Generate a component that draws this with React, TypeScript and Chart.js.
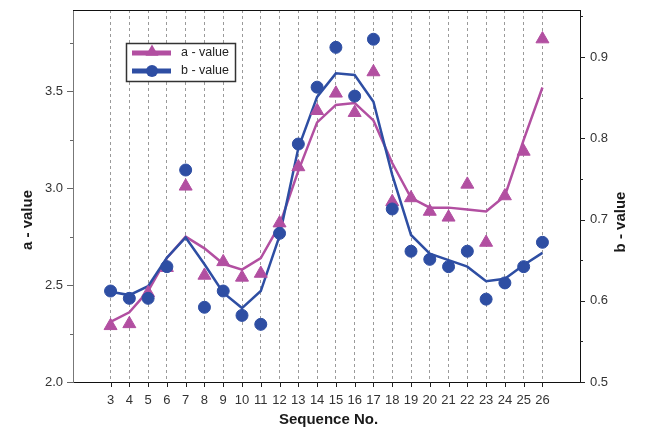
import React, { useEffect, useRef } from 'react';
import { Chart, registerables } from 'chart.js';

Chart.register(...registerables);

// Sequence numbers along the x axis
const sequence = [3, 4, 5, 6, 7, 8, 9, 10, 11, 12, 13, 14, 15, 16, 17, 18, 19, 20, 21, 22, 23, 24, 25, 26];

// Measured a - value (left axis) and its smoothed trend
const aValues = [2.29, 2.30, 2.46, 2.59, 3.01, 2.55, 2.62, 2.54, 2.56, 2.82, 3.11, 3.40, 3.49, 3.39, 3.60, 2.93, 2.95, 2.88, 2.85, 3.02, 2.72, 2.96, 3.19, 3.77];
const aTrend = [2.31, 2.36, 2.47, 2.64, 2.75, 2.69, 2.61, 2.58, 2.64, 2.81, 3.09, 3.34, 3.43, 3.44, 3.35, 3.13, 2.95, 2.90, 2.90, 2.89, 2.88, 2.96, 3.25, 3.52];

// Measured b - value (right axis) and its smoothed trend
const bValues = [0.612, 0.603, 0.603, 0.642, 0.761, 0.592, 0.612, 0.582, 0.571, 0.683, 0.793, 0.863, 0.912, 0.852, 0.922, 0.713, 0.661, 0.651, 0.642, 0.661, 0.602, 0.622, 0.642, 0.672];
const bTrend = [0.611, 0.607, 0.618, 0.653, 0.678, 0.645, 0.610, 0.591, 0.612, 0.680, 0.788, 0.851, 0.880, 0.878, 0.845, 0.755, 0.681, 0.658, 0.650, 0.642, 0.624, 0.627, 0.644, 0.659];

// Axis ranges and tick steps
const aRange = [2.0, 3.92];
const bRange = [0.5, 0.958];
const xRange = [1, 28];
const aStep = 0.5;
const bStep = 0.1;

const legendLabels = ['a - value', 'b - value'];

const PINK = '#b24fa1';
const BLUE = '#2e4ea3';
const FONT = '"Liberation Sans", Arial, sans-serif';

const pts = (ys: number[]) => sequence.map((x, i) => ({ x, y: ys[i] }));

// Fixed-width vertical axes without the automatic label padding
const fixWidth = (w: number) => (s: any) => {
  s.width = w;
  s.paddingTop = 0;
  s.paddingBottom = 0;
};

// Draws the outer frame, tick marks, axis titles and the boxed legend
const decorations = {
  id: 'decorations',
  afterDraw(chart: any) {
    const { ctx, chartArea } = chart;
    const { left, right, top, bottom } = chartArea;
    const ya = chart.scales.ya;
    const yb = chart.scales.yb;
    const x = chart.scales.x;
    ctx.save();

    // top edge of the plot frame
    ctx.strokeStyle = '#111';
    ctx.lineWidth = 1;
    ctx.beginPath();
    ctx.moveTo(left, Math.round(top) + 0.5);
    ctx.lineTo(right, Math.round(top) + 0.5);
    ctx.stroke();

    // left axis ticks (major + minor)
    ctx.strokeStyle = '#666';
    for (let v = aRange[0]; v <= aRange[1] + 1e-9; v += aStep / 2) {
      const y = Math.round(ya.getPixelForValue(v)) + 0.5;
      const major = Math.abs(v / aStep - Math.round(v / aStep)) < 1e-6;
      ctx.beginPath();
      ctx.moveTo(left - (major ? 6 : 3), y);
      ctx.lineTo(left, y);
      ctx.stroke();
    }

    // right axis ticks (major + minor)
    ctx.strokeStyle = '#222';
    for (let v = bRange[0]; v <= bRange[1] + 1e-9; v += bStep / 2) {
      const y = Math.round(yb.getPixelForValue(v)) + 0.5;
      const major = Math.abs(v / bStep - Math.round(v / bStep)) < 1e-6;
      ctx.beginPath();
      ctx.moveTo(right, y);
      ctx.lineTo(right + (major ? 5 : 3), y);
      ctx.stroke();
    }

    // x axis ticks
    for (const s of sequence) {
      const px = Math.round(x.getPixelForValue(s)) + 0.5;
      ctx.beginPath();
      ctx.moveTo(px, bottom);
      ctx.lineTo(px, bottom + 5);
      ctx.stroke();
    }

    // axis titles
    ctx.fillStyle = '#1a1a1a';
    ctx.font = `bold 15px ${FONT}`;
    ctx.textAlign = 'center';
    ctx.textBaseline = 'middle';
    ctx.fillText('Sequence No.', (left + right) / 2 + 2, 420);
    ctx.save();
    ctx.translate(28, 220);
    ctx.rotate(-Math.PI / 2);
    ctx.fillText('a - value', 0, 0);
    ctx.restore();
    ctx.save();
    ctx.translate(621, 222);
    ctx.rotate(-Math.PI / 2);
    ctx.fillText('b - value', 0, 0);
    ctx.restore();

    // legend box
    const bx = 126.5, by = 43.5, bw = 109, bh = 38;
    ctx.fillStyle = '#fff';
    ctx.fillRect(bx, by, bw, bh);
    ctx.strokeStyle = '#333';
    ctx.lineWidth = 1.5;
    ctx.strokeRect(bx, by, bw, bh);

    const rows = [
      { label: legendLabels[0], color: PINK, y: 53, marker: 'triangle' },
      { label: legendLabels[1], color: BLUE, y: 71, marker: 'circle' },
    ];
    for (const r of rows) {
      ctx.strokeStyle = r.color;
      ctx.fillStyle = r.color;
      ctx.lineWidth = 5;
      ctx.beginPath();
      ctx.moveTo(132, r.y);
      ctx.lineTo(171, r.y);
      ctx.stroke();
      ctx.beginPath();
      if (r.marker === 'triangle') {
        const rad = 7.5;
        for (let k = 0; k < 3; k++) {
          const a = k * (2 * Math.PI / 3);
          const px = 152 + Math.sin(a) * rad;
          const py = r.y - 1 - Math.cos(a) * rad;
          if (k === 0) ctx.moveTo(px, py); else ctx.lineTo(px, py);
        }
        ctx.closePath();
      } else {
        ctx.arc(152, r.y, 6, 0, Math.PI * 2);
      }
      ctx.fill();
      ctx.fillStyle = '#222';
      ctx.font = `12.5px ${FONT}`;
      ctx.textAlign = 'left';
      ctx.textBaseline = 'middle';
      ctx.fillText(r.label, 181, r.y);
    }

    ctx.restore();
  },
};

export default function App() {
  const canvasRef = useRef<HTMLCanvasElement | null>(null);

  useEffect(() => {
    if (!canvasRef.current) return;
    const tickFont = { family: FONT, size: 13 };
    const chart = new Chart(canvasRef.current, {
      type: 'line',
      data: {
        datasets: [
          {
            label: 'b - value',
            data: pts(bValues),
            yAxisID: 'yb',
            showLine: false,
            pointStyle: 'circle',
            pointRadius: 6,
            pointBackgroundColor: BLUE,
            pointBorderColor: BLUE,
            pointBorderWidth: 1,
          },
          {
            label: 'a - value',
            data: pts(aValues),
            yAxisID: 'ya',
            showLine: false,
            pointStyle: 'triangle',
            pointRadius: 7.5,
            pointBackgroundColor: PINK,
            pointBorderColor: PINK,
            pointBorderWidth: 1,
          },
          {
            label: 'b - trend',
            data: pts(bTrend),
            yAxisID: 'yb',
            borderColor: BLUE,
            borderWidth: 2.5,
            pointRadius: 0,
            tension: 0,
          },
          {
            label: 'a - trend',
            data: pts(aTrend),
            yAxisID: 'ya',
            borderColor: PINK,
            borderWidth: 2.5,
            pointRadius: 0,
            tension: 0,
          },
        ],
      },
      options: {
        responsive: true,
        maintainAspectRatio: false,
        animation: false,
        layout: { padding: { top: 10, left: 0, right: 0, bottom: 0 } },
        plugins: {
          legend: { display: false },
          tooltip: { enabled: false },
        },
        scales: {
          x: {
            type: 'linear',
            min: xRange[0],
            max: xRange[1],
            afterBuildTicks: (s: any) => {
              s.ticks = sequence.map((v) => ({ value: v }));
            },
            afterFit: (s: any) => {
              s.height = 48;
            },
            ticks: {
              autoSkip: false,
              maxRotation: 0,
              padding: 11,
              color: '#333',
              font: tickFont,
              callback: (v: any) => String(v),
            },
            grid: { color: '#9a9a9a', lineWidth: 1, drawTicks: false },
            border: { display: true, color: '#111', width: 1, dash: [3, 3] },
          },
          ya: {
            type: 'linear',
            position: 'left',
            min: aRange[0],
            max: aRange[1],
            afterFit: fixWidth(73),
            ticks: {
              stepSize: aStep,
              includeBounds: false,
              padding: 10,
              color: '#333',
              font: tickFont,
              callback: (v: any) => Number(v).toFixed(1),
            },
            grid: { drawOnChartArea: false, drawTicks: false },
            border: { display: true, color: '#777', width: 1 },
          },
          yb: {
            type: 'linear',
            position: 'right',
            min: bRange[0],
            max: bRange[1],
            afterFit: fixWidth(65),
            ticks: {
              stepSize: bStep,
              includeBounds: false,
              padding: 10,
              color: '#333',
              font: tickFont,
              callback: (v: any) => Number(v).toFixed(1),
            },
            grid: { drawOnChartArea: false, drawTicks: false },
            border: { display: true, color: '#111', width: 1 },
          },
        },
      },
      plugins: [decorations],
    });
    return () => chart.destroy();
  }, []);

  return (
    <div style={{ position: 'fixed', left: 0, top: 0, width: 645, height: 430, background: '#fff' }}>
      <canvas ref={canvasRef} />
    </div>
  );
}
